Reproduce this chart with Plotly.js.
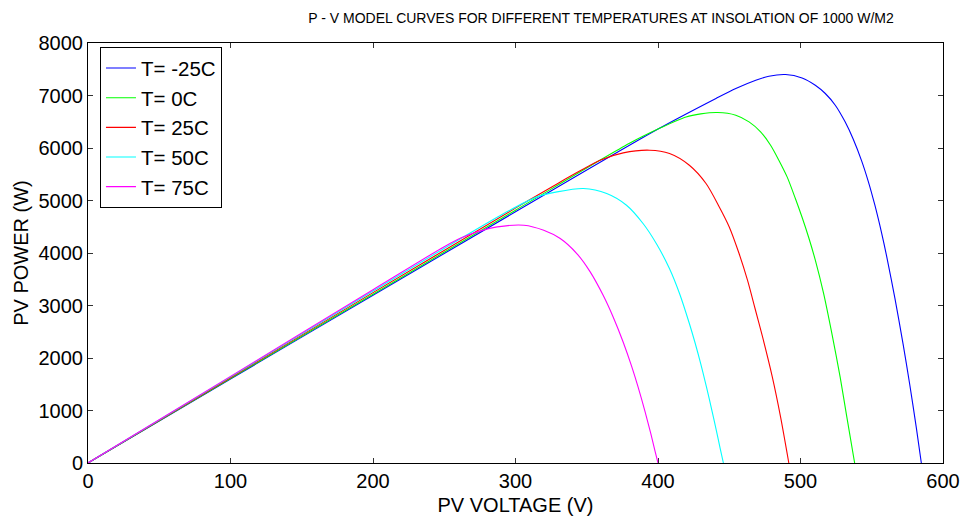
<!DOCTYPE html>
<html>
<head>
<meta charset="utf-8">
<script src="https://cdn.plot.ly/plotly-3.0.1.min.js"></script>
<style>html,body{margin:0;padding:0;background:#fff;}#chart{width:969px;height:519px;}</style>
</head>
<body>
<div id="chart"></div>
<script>
// Series names
const seriesNames = ["T= -25C", "T= 0C", "T= 25C", "T= 50C", "T= 75C"];

// T = -25C  (PV voltage V, PV power W)
const vM25 = [0, 100, 200, 300, 400, 440.7, 454.6, 468.6, 477.8, 489.5, 501.1, 510.4, 517.4, 524.4, 531.3, 537.1, 542.9, 547.6, 552.2, 556.9, 560.4, 566.2, 572.0, 576.6, 581.3, 584.8];
const pM25 = [0, 1600, 3195, 4785, 6360, 6943, 7133, 7291, 7368, 7400, 7335, 7196, 7038, 6815, 6498, 6162, 5756, 5361, 4910, 4384, 3946, 3146, 2264, 1505, 668, 0];

// T = 0C
const v0 = [0, 100, 200, 300, 380, 401.1, 419.7, 430, 441.8, 454.6, 463.9, 472.0, 479.0, 484.8, 490.6, 496.4, 501.1, 505.7, 510.4, 516.2, 522.0, 527.8, 532.5, 538.0];
const p0 = [0, 1610, 3215, 4815, 6090, 6375, 6592, 6650, 6676, 6625, 6497, 6307, 6053, 5768, 5450, 5038, 4680, 4300, 3863, 3229, 2467, 1640, 878, 0];

// T = 25C
const v25 = [0, 100, 200, 300, 330, 345, 359.3, 375.6, 394.1, 408.1, 422.0, 433.7, 443.0, 450.0, 456.9, 462.8, 468.1, 473.2, 480.2, 486.0, 491.8];
const p25 = [0, 1625, 3245, 4855, 5330, 5560, 5768, 5907, 5958, 5895, 5672, 5324, 4878, 4497, 3990, 3482, 2943, 2420, 1640, 878, 0];

// T = 50C
const v50 = [0, 100, 200, 290, 315, 329.1, 347.7, 364.0, 377.9, 389.5, 398.8, 408.1, 415.1, 422.0, 426.0, 430.0, 434.0, 438.0, 441.0, 443.5, 445.9];
const p50 = [0, 1640, 3275, 4725, 5069, 5164, 5229, 5133, 4910, 4562, 4181, 3700, 3229, 2657, 2290, 1890, 1450, 980, 610, 295, 0];

// T = 75C
const v75 = [0, 100, 200, 250, 262, 273.3, 287.2, 305.9, 319.8, 331.4, 343.0, 352.3, 361.6, 368.6, 375.6, 381.4, 386.0, 391.0, 395.0, 398.0, 400.0];
const p75 = [0, 1650, 3300, 4120, 4290, 4402, 4497, 4530, 4434, 4276, 3990, 3646, 3190, 2777, 2301, 1849, 1449, 969, 553, 217, 0];

const xTicks = [0, 100, 200, 300, 400, 500, 600];
const yTicks = [0, 1000, 2000, 3000, 4000, 5000, 6000, 7000, 8000];

const colors = ["#0000ff", "#00ff00", "#ff0000", "#00ffff", "#ff00ff"];
const xs = [vM25, v0, v25, v50, v75];
const ys = [pM25, p0, p25, p50, p75];

const traces = xs.map((x, i) => ({
  x: x, y: ys[i], type: "scatter", mode: "lines", name: seriesNames[i],
  line: {color: colors[i], width: 1.1, shape: "spline", smoothing: 0.8}
}));

const font = "Liberation Sans, Arial, sans-serif";
const axisCommon = {
  showgrid: false, zeroline: false, showline: true, linecolor: "#000", linewidth: 1,
  mirror: "ticks", ticks: "inside", ticklen: 5, tickcolor: "#333", tickwidth: 1,
  tickfont: {family: font, size: 20, color: "#000"}
};

const layout = {
  width: 969, height: 519,
  margin: {l: 88, r: 26, t: 43, b: 56},
  paper_bgcolor: "#fff", plot_bgcolor: "#fff",
  showlegend: true,
  title: {text: "P - V MODEL CURVES FOR DIFFERENT TEMPERATURES AT INSOLATION OF 1000 W/M2",
          font: {family: font, size: 14, color: "#000"},
          x: 0.6, xref: "paper", xanchor: "center", y: 0.965, yref: "container", yanchor: "middle"},
  xaxis: Object.assign({}, axisCommon, {
    range: [0, 600], tickvals: xTicks, ticktext: xTicks.map(String),
    title: {text: "PV VOLTAGE (V)", font: {family: font, size: 20, color: "#000"}, standoff: 6}
  }),
  yaxis: Object.assign({}, axisCommon, {
    range: [0, 8000], tickvals: yTicks, ticktext: yTicks.map(String),
    title: {text: "PV POWER (W)", font: {family: font, size: 20, color: "#000"}, standoff: 4}
  }),
  legend: {
    x: 0.014, y: 0.99, xanchor: "left", yanchor: "top",
    bgcolor: "#fff", bordercolor: "#000", borderwidth: 1,
    font: {family: font, size: 20.5, color: "#000"},
    tracegroupgap: 0, itemwidth: 30
  }
};

Plotly.newPlot("chart", traces, layout, {displayModeBar: false, staticPlot: true});
</script>
</body>
</html>
